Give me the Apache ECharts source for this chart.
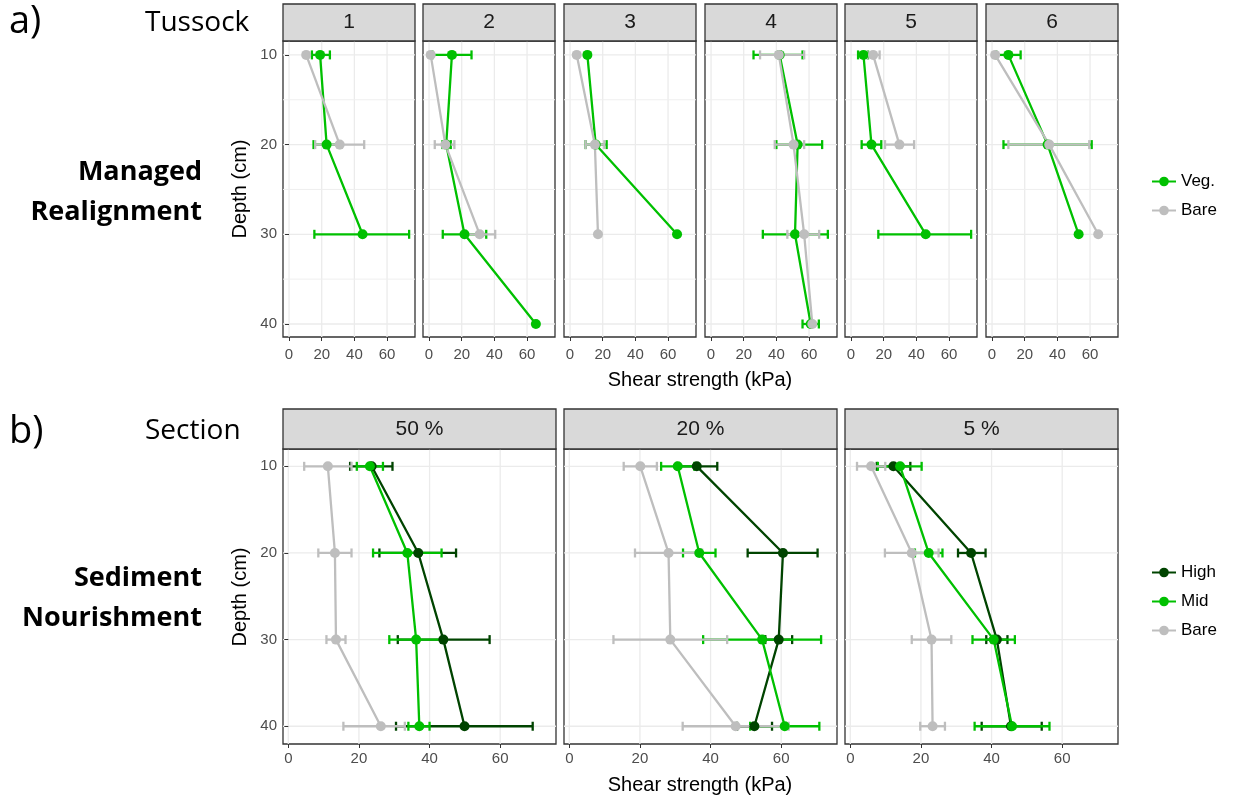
<!DOCTYPE html>
<html><head><meta charset="utf-8">
<script src="https://cdn.jsdelivr.net/npm/echarts@6/dist/echarts.min.js"></script>
<style>html,body{margin:0;padding:0;background:#fff}#c{width:1233px;height:799px}</style>
</head><body><div id="c"></div>
<script>
// ---------- data ----------
const depths = [10, 20, 30, 40];
const tussocks = ['1', '2', '3', '4', '5', '6'];
const sections = ['50 %', '20 %', '5 %'];
const xTicks = [0, 20, 40, 60];
const yTicks = [10, 20, 30, 40];

// a) Managed Realignment, per tussock, per depth (kPa)
const vegMean = [[19, 23, 45, null], [14, 10.5, 21.7, 65.4], [10.6, 15.7, 65.5, null], [42, 53, 51.4, 61], [7.6, 12.5, 45.7, null], [10, 34, 53, null]];
const vegLo   = [[14, 15, 15.5, null], [2, 8.2, 8.4, null], [null, 9.5, null, null], [26, 40, 31.7, 56], [4.3, 6.5, 16.7, null], [2.5, 7, null, null]];
const vegHi   = [[25, 31, 73.5, null], [26, 13.3, 35, null], [null, 22.4, null, null], [56, 68, 71.5, 66], [10.4, 18.5, 73.5, null], [17.5, 61, null, null]];
const bareAMean = [[10.5, 31, null, null], [1, 10, 31, null], [4.1, 15.2, 17.1, null], [41.5, 50.5, 57, 62], [13.5, 29.6, null, null], [1.9, 35, 65, null]];
const bareALo   = [[null, 16, null, null], [null, 3.5, 21, null], [null, 9.5, null, null], [30, 39, 46.7, null], [10, 20.8, null, null], [null, 10, null, null]];
const bareAHi   = [[null, 46, null, null], [null, 15.5, 40.5, null], [null, 21, null, null], [57, 57, 66.2, null], [17.5, 38.6, null, null], [null, 59.5, null, null]];

// b) Sediment Nourishment, per section, per depth (kPa)
const highMean = [[23.6, 36.8, 43.9, 49.9], [36.1, 60.5, 59.3, 52.4], [12.2, 34.2, 41.5, 45.5]];
const highLo   = [[17.5, 25.8, 31, 30.5], [30.5, 50.5, 55.5, 47.5], [7.5, 30.5, 38.5, 37.2]];
const highHi   = [[29.5, 47.5, 57, 69.2], [41.9, 70.3, 63.1, 57.4], [17, 38.3, 44.5, 54.2]];
const midMean  = [[23.1, 33.7, 36.2, 37.1], [30.7, 36.8, 54.6, 61], [14.1, 22.2, 40.6, 45.8]];
const midLo    = [[19.4, 24, 28.6, 34], [26, 32.2, 37.9, 51.2], [7.8, 18.3, 34.6, 35.2]];
const midHi    = [[26.8, 43.4, 43.8, 40], [35.4, 41.4, 71.3, 70.8], [20.2, 26.1, 46.6, 56.4]];
const bareBMean = [[11.2, 13.2, 13.5, 26.2], [20.1, 28.1, 28.6, 47.1], [5.9, 17.4, 23, 23.3]];
const bareBLo   = [[4.5, 8.5, 10.8, 15.6], [15.4, 18.6, 12.5, 32.1], [1.9, 9.8, 17.4, 19.8]];
const bareBHi   = [[17.9, 17.9, 16.2, 33], [24.8, 37.6, 44.7, 62.1], [9.9, 25, 28.6, 26.8]];

// ---------- styling / layout ----------
const C_VEG = '#00C000', C_HIGH = '#004400', C_BARE = '#BEBEBE';
const TICK_FONT = 'Liberation Sans, Arial, sans-serif';
const BIG_FONT = 'Open Sans, Lato, sans-serif';

const A = {top: 41, height: 296, lefts: [283, 423, 564, 705, 845, 986], width: 132, xmin: -3.7, xmax: 77.1, ymin: 8.45, ymax: 41.45, stripTop: 4, labelMargin: 10};
const B = {top: 449, height: 295, lefts: [283, 564, 845], width: 273, xmin: -1.5, xmax: 75.8, ymin: 8.0, ymax: 42.05, stripTop: 409, labelMargin: 7};

const chart = echarts.init(document.getElementById('c'), null, {renderer: 'canvas'});
const grids = [], xAxes = [], yAxes = [], series = [], graphics = [];

function addGrid(P, i, showY) {
  const gi = grids.length;
  grids.push({left: P.lefts[i], top: P.top, width: P.width, height: P.height, show: true,
    borderColor: '#333333', borderWidth: 1.3, backgroundColor: '#fff', containLabel: false});
  xAxes.push({type: 'value', gridIndex: gi, min: P.xmin, max: P.xmax,
    axisLine: {show: false}, splitLine: {show: false},
    axisTick: {show: true, length: 4, customValues: xTicks, lineStyle: {color: '#333', width: 1}},
    axisLabel: {show: true, customValues: xTicks, margin: P.labelMargin, fontSize: 15, color: '#4D4D4D', fontFamily: TICK_FONT}});
  yAxes.push({type: 'value', gridIndex: gi, min: P.ymin, max: P.ymax, inverse: true,
    axisLine: {show: false}, splitLine: {show: false},
    axisTick: {show: showY, length: 4, customValues: yTicks, lineStyle: {color: '#333', width: 1}},
    axisLabel: {show: showY, customValues: yTicks, margin: 6, fontSize: 15, color: '#4D4D4D', fontFamily: TICK_FONT}});
  return gi;
}

function gridLines(gi, minorY) {
  series.push({type: 'custom', xAxisIndex: gi, yAxisIndex: gi, silent: true, z: 0, clip: true,
    data: [[0, 10]],
    renderItem: function (params, api) {
      const cs = params.coordSys, ch = [];
      xTicks.forEach(v => {
        const x = api.coord([v, 10])[0];
        ch.push({type: 'line', shape: {x1: x, y1: cs.y, x2: x, y2: cs.y + cs.height}, style: {stroke: '#EBEBEB', lineWidth: 1.3}});
      });
      yTicks.forEach(v => {
        const y = api.coord([0, v])[1];
        ch.push({type: 'line', shape: {x1: cs.x, y1: y, x2: cs.x + cs.width, y2: y}, style: {stroke: '#EBEBEB', lineWidth: 1.3}});
      });
      minorY.forEach(v => {
        const y = api.coord([0, v])[1];
        ch.push({type: 'line', shape: {x1: cs.x, y1: y, x2: cs.x + cs.width, y2: y}, style: {stroke: '#EFEFEF', lineWidth: 1}});
      });
      return {type: 'group', children: ch};
    }});
}

function errBars(gi, lo, hi, color, capH, lw) {
  const data = [];
  depths.forEach((d, k) => { if (lo[k] != null && hi[k] != null) data.push([lo[k], hi[k], d]); });
  series.push({type: 'custom', name: 'err', xAxisIndex: gi, yAxisIndex: gi, silent: true, z: 2, clip: false,
    encode: {x: [0, 1], y: 2},
    data: data,
    renderItem: function (params, api) {
      const a = api.coord([api.value(0), api.value(2)]);
      const b = api.coord([api.value(1), api.value(2)]);
      const st = {stroke: color, lineWidth: lw};
      return {type: 'group', children: [
        {type: 'line', shape: {x1: a[0], y1: a[1], x2: b[0], y2: b[1]}, style: st},
        {type: 'line', shape: {x1: a[0], y1: a[1] - capH / 2, x2: a[0], y2: a[1] + capH / 2}, style: st},
        {type: 'line', shape: {x1: b[0], y1: b[1] - capH / 2, x2: b[0], y2: b[1] + capH / 2}, style: st}
      ]};
    }});
}

function meanLine(gi, name, mean, color, lw) {
  const data = [];
  depths.forEach((d, k) => { if (mean[k] != null) data.push([mean[k], d]); });
  series.push({type: 'line', name: name, xAxisIndex: gi, yAxisIndex: gi, z: 3, data: data,
    symbol: 'circle', symbolSize: 10, showSymbol: true, itemStyle: {color: color},
    lineStyle: {color: color, width: lw}, clip: false});
}

function strip(P, i, label) {
  const x = P.lefts[i], y = P.stripTop, h = P.top - P.stripTop;
  graphics.push({type: 'rect', shape: {x: x, y: y, width: P.width, height: h},
    style: {fill: '#D9D9D9', stroke: '#333333', lineWidth: 1.3}, z: 10});
  graphics.push({type: 'text', x: x + P.width / 2, y: y + h / 2,
    style: {text: label, fill: '#1A1A1A', font: '21px ' + TICK_FONT, textAlign: 'center', textVerticalAlign: 'middle'}, z: 11});
}

// a) panels
tussocks.forEach((t, i) => {
  const gi = addGrid(A, i, i === 0);
  gridLines(gi, [15, 25, 35]);
  errBars(gi, vegLo[i], vegHi[i], C_VEG, 9, 2.3);
  errBars(gi, bareALo[i], bareAHi[i], C_BARE, 9, 2.3);
  meanLine(gi, 'Veg.', vegMean[i], C_VEG, 2.3);
  meanLine(gi, 'Bare', bareAMean[i], C_BARE, 2.3);
  strip(A, i, t);
});
// b) panels
sections.forEach((s, i) => {
  const gi = addGrid(B, i, i === 0);
  gridLines(gi, []);
  errBars(gi, highLo[i], highHi[i], C_HIGH, 9, 2.3);
  errBars(gi, midLo[i], midHi[i], C_VEG, 9, 2.3);
  errBars(gi, bareBLo[i], bareBHi[i], C_BARE, 9, 2.3);
  meanLine(gi, 'High', highMean[i], C_HIGH, 2.3);
  meanLine(gi, 'Mid', midMean[i], C_VEG, 2.3);
  meanLine(gi, 'Bare', bareBMean[i], C_BARE, 2.3);
  strip(B, i, s);
});

function txt(x, y, text, font, align, extra) {
  graphics.push(Object.assign({type: 'text', x: x, y: y,
    style: {text: text, fill: '#000', font: font, textAlign: align || 'left', textVerticalAlign: 'middle'}, z: 12}, extra || {}));
}
txt(9, 22, 'a)', '38px ' + BIG_FONT);
txt(145, 23, 'Tussock', '28px ' + BIG_FONT);
txt(202, 172, 'Managed', 'bold 27px ' + BIG_FONT, 'right');
txt(202, 212, 'Realignment', 'bold 27px ' + BIG_FONT, 'right');
txt(240, 189, 'Depth (cm)', '20px ' + TICK_FONT, 'center', {rotation: Math.PI / 2});
txt(700, 380, 'Shear strength (kPa)', '20px ' + TICK_FONT, 'center');
txt(9, 432, 'b)', '38px ' + BIG_FONT);
txt(145, 431, 'Section', '28px ' + BIG_FONT);
txt(202, 578, 'Sediment', 'bold 27px ' + BIG_FONT, 'right');
txt(202, 618, 'Nourishment', 'bold 27px ' + BIG_FONT, 'right');
txt(240, 597, 'Depth (cm)', '20px ' + TICK_FONT, 'center', {rotation: Math.PI / 2});
txt(700, 785, 'Shear strength (kPa)', '20px ' + TICK_FONT, 'center');

chart.setOption({
  animation: false,
  grid: grids, xAxis: xAxes, yAxis: yAxes, series: series,
  legend: [
    {data: ['Veg.', 'Bare'], orient: 'vertical', left: 1146, top: 168, itemWidth: 24, itemHeight: 12, itemGap: 12,
      textStyle: {fontSize: 17, color: '#000', fontFamily: TICK_FONT}, selectedMode: false},
    {data: ['High', 'Mid', 'Bare'], orient: 'vertical', left: 1146, top: 559, itemWidth: 24, itemHeight: 12, itemGap: 12,
      textStyle: {fontSize: 17, color: '#000', fontFamily: TICK_FONT}, selectedMode: false}
  ],
  graphic: graphics
});
</script></body></html>
